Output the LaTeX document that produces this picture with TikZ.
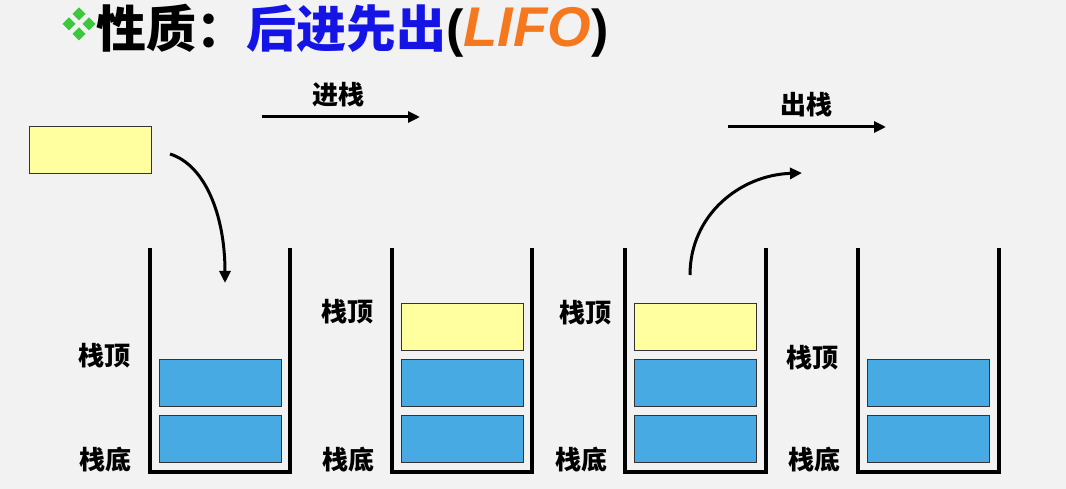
\documentclass[tikz,border=0pt]{standalone}
\usepackage{fontspec}
\newfontfamily\cjk{Noto Sans CJK SC}
\newfontfamily\lat{Liberation Sans}
\usetikzlibrary{arrows.meta}
\definecolor{bg}{RGB}{242,242,242}
\definecolor{stackblue}{RGB}{72,170,226}
\definecolor{stackyellow}{RGB}{255,255,160}
\definecolor{titleblue}{RGB}{20,20,230}
\definecolor{lifocol}{RGB}{245,120,30}
\definecolor{bulletgreen}{RGB}{60,200,60}
\begin{document}
\begin{tikzpicture}[x=1pt,y=-1pt,
  stackbox/.style={draw=black!80, line width=1.2pt, minimum width=122pt, minimum height=47pt, inner sep=0pt, anchor=north west},
  bluebox/.style={stackbox, fill=stackblue},
  yellowbox/.style={stackbox, fill=stackyellow},
  wall/.style={line width=4pt, line join=miter},
  lbl/.style={font=\cjk\bfseries\fontsize{26}{26}\selectfont, inner sep=0pt},
  arr/.style={line width=3pt, -{Triangle[length=12pt,width=11pt]}}
]
\fill[bg] (0,0) rectangle (1066,489);
\useasboundingbox (0,0) rectangle (1066,489);

% title
\foreach \dx/\dy in {0/-10,-10/0,10/0,0/10}
  \fill[bulletgreen] (79+\dx,24+\dy) +(0,-6.5) -- +(6.5,0) -- +(0,6.5) -- +(-6.5,0) -- cycle;
\node[anchor=base west, inner sep=0pt, font=\cjk\bfseries\fontsize{50}{50}\selectfont] (title) at (96,48) {性质：\textcolor{titleblue}{后进先出}};
\node[anchor=base west, inner sep=0pt, font=\lat\bfseries\fontsize{52}{52}\selectfont] (lifo) at (446,47) {(\textcolor{lifocol}{\fontsize{56}{56}\selectfont\itshape LIFO})};

% free element
\node[yellowbox] (b0) at (29,126) {};

% stack 1
\draw[wall] (150,248) -- (150,472) -- (290,472) -- (290,248);
\node[bluebox] (s1a) at (159,359) {};
\node[bluebox] (s1b) at (159,415) {};
\node[lbl] (t1) at (104,356) {栈顶};
\node[lbl] (d1) at (105,460) {栈底};

% stack 2
\draw[wall] (392,248) -- (392,472) -- (532,472) -- (532,248);
\node[yellowbox] (s2y) at (401,303) {};
\node[bluebox] (s2a) at (401,359) {};
\node[bluebox] (s2b) at (401,415) {};
\node[lbl] (t2) at (347,312) {栈顶};
\node[lbl] (d2) at (348,460) {栈底};

% stack 3
\draw[wall] (625,248) -- (625,472) -- (766,472) -- (766,248);
\node[yellowbox] (s3y) at (634,303) {};
\node[bluebox] (s3a) at (634,359) {};
\node[bluebox] (s3b) at (634,415) {};
\node[lbl] (t3) at (585,313) {栈顶};
\node[lbl] (d3) at (581,460) {栈底};

% stack 4
\draw[wall] (858,248) -- (858,472) -- (999,472) -- (999,248);
\node[bluebox] (s4a) at (867,359) {};
\node[bluebox] (s4b) at (867,415) {};
\node[lbl] (t4) at (812,358) {栈顶};
\node[lbl] (d4) at (814,460) {栈底};

% push / pop arrows
\node[lbl] (push) at (338,95) {进栈};
\coordinate (p1) at (262,117);
\coordinate (p2) at (420,117);
\draw[arr] (p1) -- (p2);
\node[lbl] (pop) at (806,105) {出栈};
\coordinate (q1) at (728,127);
\coordinate (q2) at (886,127);
\draw[arr] (q1) -- (q2);

% curved arrows
\coordinate (c1s) at (170,154);
\coordinate (c1e) at (225,283);
\draw[arr] (c1s) .. controls (205,165) and (225,215) .. (c1e);
\coordinate (c2s) at (690,275);
\coordinate (c2e) at (802,173);
\draw[arr] (c2s) .. controls (690,215) and (740,175) .. (c2e);
\end{tikzpicture}
\end{document}
